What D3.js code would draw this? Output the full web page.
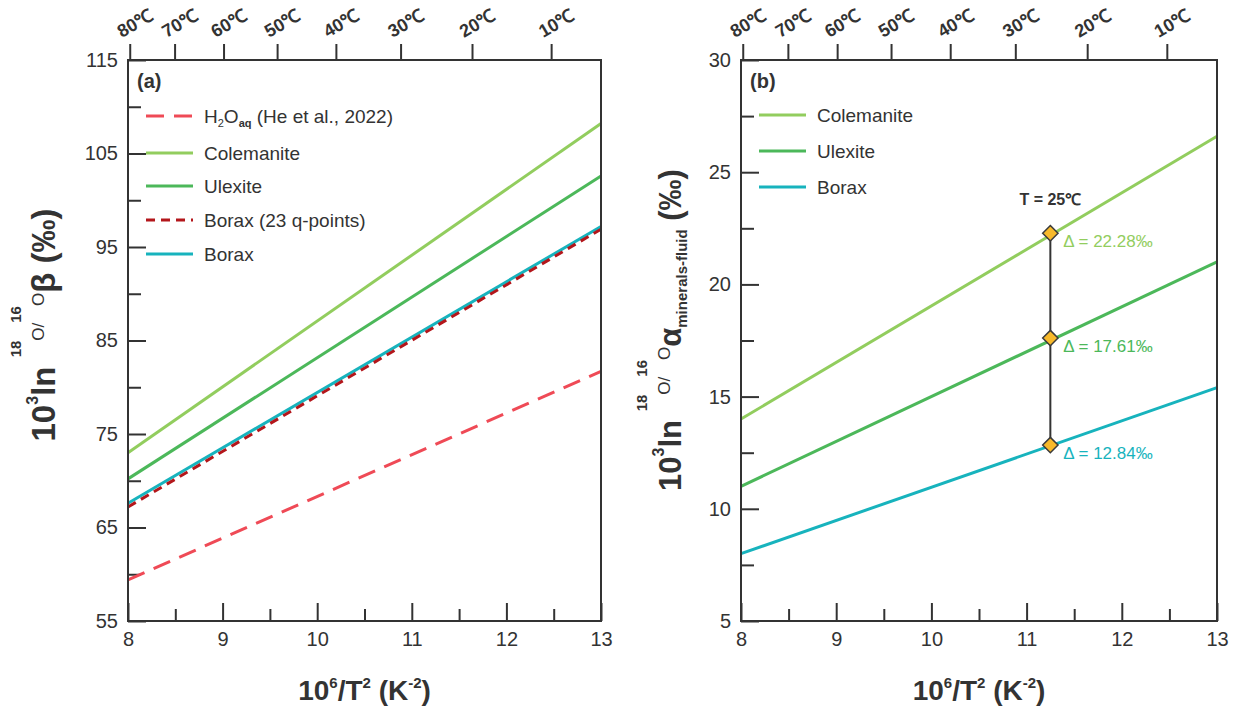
<!DOCTYPE html>
<html lang="en">
<head>
<meta charset="UTF-8">
<title>Oxygen isotope fractionation</title>
<script src="https://d3js.org/d3.v7.min.js"></script>
<style>
  body { margin: 0; background: #fff; }
  svg text { font-family: "Liberation Sans", Arial, sans-serif; fill: #333; }
</style>
</head>
<body>
<div id="chart"></div>
<script>
// x values: 10^6/T^2 (K^-2), lines are straight so two end points each
const xVals = [8, 13];

// panel (a): 10^3 ln beta
const h2oBeta = [59.4, 81.7];
const colemaniteBeta = [73.0, 108.2];
const ulexiteBeta = [70.2, 102.6];
const boraxQBeta = [67.2, 96.9];
const boraxBeta = [67.6, 97.2];

// panel (b): 10^3 ln alpha minerals-fluid
const colemaniteAlpha = [14.0, 26.6];
const ulexiteAlpha = [11.0, 21.0];
const boraxAlpha = [8.0, 15.4];

// 25 C markers in (b)
const markerT = 25;
const markerValues = [22.28, 17.61, 12.84];
const markerLabels = ["Δ = 22.28‰", "Δ = 17.61‰", "Δ = 12.84‰"];

// top temperature axis
const tempTicks = [80, 70, 60, 50, 40, 30, 20, 10];

const yTicksA = [55, 65, 75, 85, 95, 105, 115];
const yTicksB = [5, 10, 15, 20, 25, 30];

const C = {
  h2o: "#ef4a56",
  cole: "#92cd5e",
  ulex: "#4cb85a",
  boraxQ: "#b3161b",
  borax: "#17b3bd",
  ink: "#333"
};

const invT2 = t => 1e6 / Math.pow(t + 273.15, 2);

const svg = d3.select("#chart").append("svg")
  .attr("width", 1245).attr("height", 711);

function drawPanel(p) {
  const x = d3.scaleLinear().domain([8, 13]).range([p.left, p.right]);
  const y = d3.scaleLinear().domain(p.yDomain).range([621, 60]);
  const g = svg.append("g");

  // bottom axis, major + minor ticks inward
  g.append("g").attr("transform", "translate(0,621)")
    .call(d3.axisBottom(x).tickValues([8.5, 9.5, 10.5, 11.5, 12.5]).tickSize(-12).tickFormat(""))
    .call(a => a.selectAll(".domain").remove());
  g.append("g").attr("transform", "translate(0,621)")
    .call(d3.axisBottom(x).tickValues([8, 9, 10, 11, 12, 13]).tickSize(-18).tickPadding(6).tickFormat(d3.format("d")))
    .call(a => a.selectAll(".domain").remove())
    .call(a => a.selectAll("text").attr("font-size", 20).attr("dy", "0.95em"));

  // left axis
  const step = p.yTicks[1] - p.yTicks[0];
  const minor = d3.range(p.yDomain[0] + step / 2, p.yDomain[1], step);
  g.append("g").attr("transform", `translate(${p.left},0)`)
    .call(d3.axisLeft(y).tickValues(minor).tickSize(-13).tickFormat(""))
    .call(a => a.selectAll(".domain").remove());
  g.append("g").attr("transform", `translate(${p.left},0)`)
    .call(d3.axisLeft(y).tickValues(p.yTicks).tickSize(-18).tickPadding(10).tickFormat(d3.format("d")))
    .call(a => a.selectAll(".domain").remove())
    .call(a => a.selectAll("text").attr("font-size", 20));

  // top temperature axis, ticks outward
  g.append("g").attr("transform", "translate(0,60)")
    .call(d3.axisTop(x).tickValues(tempTicks.map(invT2)).tickSize(16).tickFormat(""))
    .call(a => a.selectAll(".domain").remove());
  g.selectAll(".tlab").data(tempTicks).join("text")
    .attr("transform", d => `translate(${x(invT2(d)) - 8},38) rotate(-30)`)
    .attr("font-size", 18).attr("font-weight", "bold")
    .attr("text-anchor", "start")
    .text(d => d + "℃");

  g.selectAll(".tick line").attr("stroke", C.ink).attr("stroke-width", 2);
  g.selectAll(".tick text").attr("fill", C.ink);

  // series
  const line = d3.line().x(d => x(d[0])).y(d => y(d[1]));
  p.series.forEach(s => {
    g.append("path")
      .datum(xVals.map((v, i) => [v, s.values[i]]))
      .attr("d", line)
      .attr("fill", "none")
      .attr("stroke", s.color)
      .attr("stroke-width", 3)
      .attr("stroke-dasharray", s.dash || null);
  });

  // frame
  g.append("rect")
    .attr("x", p.left).attr("y", 60)
    .attr("width", p.right - p.left).attr("height", 561)
    .attr("fill", "none").attr("stroke", C.ink).attr("stroke-width", 2);

  // panel tag
  g.append("text").attr("x", p.left + 9).attr("y", 88)
    .attr("font-size", 20).attr("font-weight", "bold").text(p.tag);

  // legend
  p.legend.forEach((s, i) => {
    const ly = p.legendY[i];
    g.append("line")
      .attr("x1", p.left + 18).attr("x2", p.left + 65)
      .attr("y1", ly).attr("y2", ly)
      .attr("stroke", s.color).attr("stroke-width", 3)
      .attr("stroke-dasharray", s.dash || null);
    const t = g.append("text").attr("x", p.left + 76).attr("y", ly + 7)
      .attr("font-size", 19);
    if (s.name === "H2O") {
      t.append("tspan").text("H");
      t.append("tspan").attr("font-size", 11).attr("dy", 4).text("2");
      t.append("tspan").attr("dy", -4).text("O");
      t.append("tspan").attr("font-size", 11).attr("font-weight", "bold").attr("dy", 4).text("aq");
      t.append("tspan").attr("dy", -4).text(" (He et al., 2022)");
    } else {
      t.text(s.name);
    }
  });

  // x title
  const xt = g.append("text")
    .attr("x", (p.left + p.right) / 2).attr("y", 700)
    .attr("text-anchor", "middle").attr("font-size", 28).attr("font-weight", "bold");
  xt.append("tspan").text("10");
  xt.append("tspan").attr("font-size", 15).attr("dy", -12).text("6");
  xt.append("tspan").attr("dy", 12).text("/T");
  xt.append("tspan").attr("font-size", 15).attr("dy", -12).text("2");
  xt.append("tspan").attr("dy", 12).text(" (K");
  xt.append("tspan").attr("font-size", 15).attr("dy", -12).text("-2");
  xt.append("tspan").attr("dy", 12).text(")");

  // y title
  const yt = g.append("text")
    .attr("transform", `translate(${p.yTitleX},${p.yTitleY}) rotate(-90)`)
    .attr("text-anchor", "middle").attr("font-size", p.yTitleSize).attr("font-weight", "bold");
  yt.append("tspan").text("10");
  yt.append("tspan").attr("font-size", 16).attr("dy", -17).text("3");
  yt.append("tspan").attr("dy", 17).text("ln ");
  yt.append("tspan").attr("font-size", 15).attr("dy", -34).text("18");
  yt.append("tspan").attr("font-size", 17).attr("font-weight", "normal").attr("dy", 23).text("O/");
  yt.append("tspan").attr("font-size", 15).attr("dy", -23).text("16");
  yt.append("tspan").attr("font-size", 17).attr("font-weight", "normal").attr("dy", 23).text("O");
  if (p.tag === "(a)") {
    yt.append("tspan").attr("dy", 11).text("β (‰)");
  } else {
    yt.append("tspan").attr("dy", 11).text("α");
    yt.append("tspan").attr("font-size", 15).attr("dy", 6).text("minerals-fluid");
    yt.append("tspan").attr("dy", -6).text(" (‰)");
  }

  return { x, y, g };
}

const seriesA = [
  { name: "H2O", values: h2oBeta, color: C.h2o, dash: "18,10" },
  { name: "Colemanite", values: colemaniteBeta, color: C.cole },
  { name: "Ulexite", values: ulexiteBeta, color: C.ulex },
  { name: "Borax (23 q-points)", values: boraxQBeta, color: C.boraxQ, dash: "9,6" },
  { name: "Borax", values: boraxBeta, color: C.borax }
];
drawPanel({
  left: 128, right: 601, yDomain: [55, 115], yTicks: yTicksA, tag: "(a)",
  series: [seriesA[0], seriesA[1], seriesA[2], seriesA[4], seriesA[3]],
  legend: seriesA, legendY: [116, 153, 186, 220, 254],
  yTitleX: 55, yTitleY: 325, yTitleSize: 33
});

const seriesB = [
  { name: "Colemanite", values: colemaniteAlpha, color: C.cole },
  { name: "Ulexite", values: ulexiteAlpha, color: C.ulex },
  { name: "Borax", values: boraxAlpha, color: C.borax }
];
const pb = drawPanel({
  left: 741, right: 1217, yDomain: [5, 30], yTicks: yTicksB, tag: "(b)",
  series: seriesB, legend: seriesB, legendY: [115, 151, 187],
  yTitleX: 681, yTitleY: 330, yTitleSize: 31
});

// 25 C annotation
const mx = pb.x(invT2(markerT));
pb.g.append("line")
  .attr("x1", mx).attr("x2", mx)
  .attr("y1", pb.y(d3.max(markerValues))).attr("y2", pb.y(d3.min(markerValues)))
  .attr("stroke", C.ink).attr("stroke-width", 2);
pb.g.append("text").attr("x", mx).attr("y", pb.y(d3.max(markerValues)) - 28)
  .attr("text-anchor", "middle").attr("font-size", 16).attr("font-weight", "bold")
  .text("T = 25℃");
const mColors = [C.cole, C.ulex, C.borax];
pb.g.selectAll(".mk").data(markerValues).join("path")
  .attr("d", d3.symbol(d3.symbolDiamond2, 150)())
  .attr("transform", d => `translate(${mx},${pb.y(d)})`)
  .attr("fill", "#f7b92b").attr("stroke", "#3a3a3a").attr("stroke-width", 1.5);
pb.g.selectAll(".ml").data(markerValues).join("text")
  .attr("x", mx + 13).attr("y", d => pb.y(d) + 14)
  .attr("font-size", 17)
  .style("fill", (d, i) => mColors[i])
  .text((d, i) => markerLabels[i]);
</script>
</body>
</html>
